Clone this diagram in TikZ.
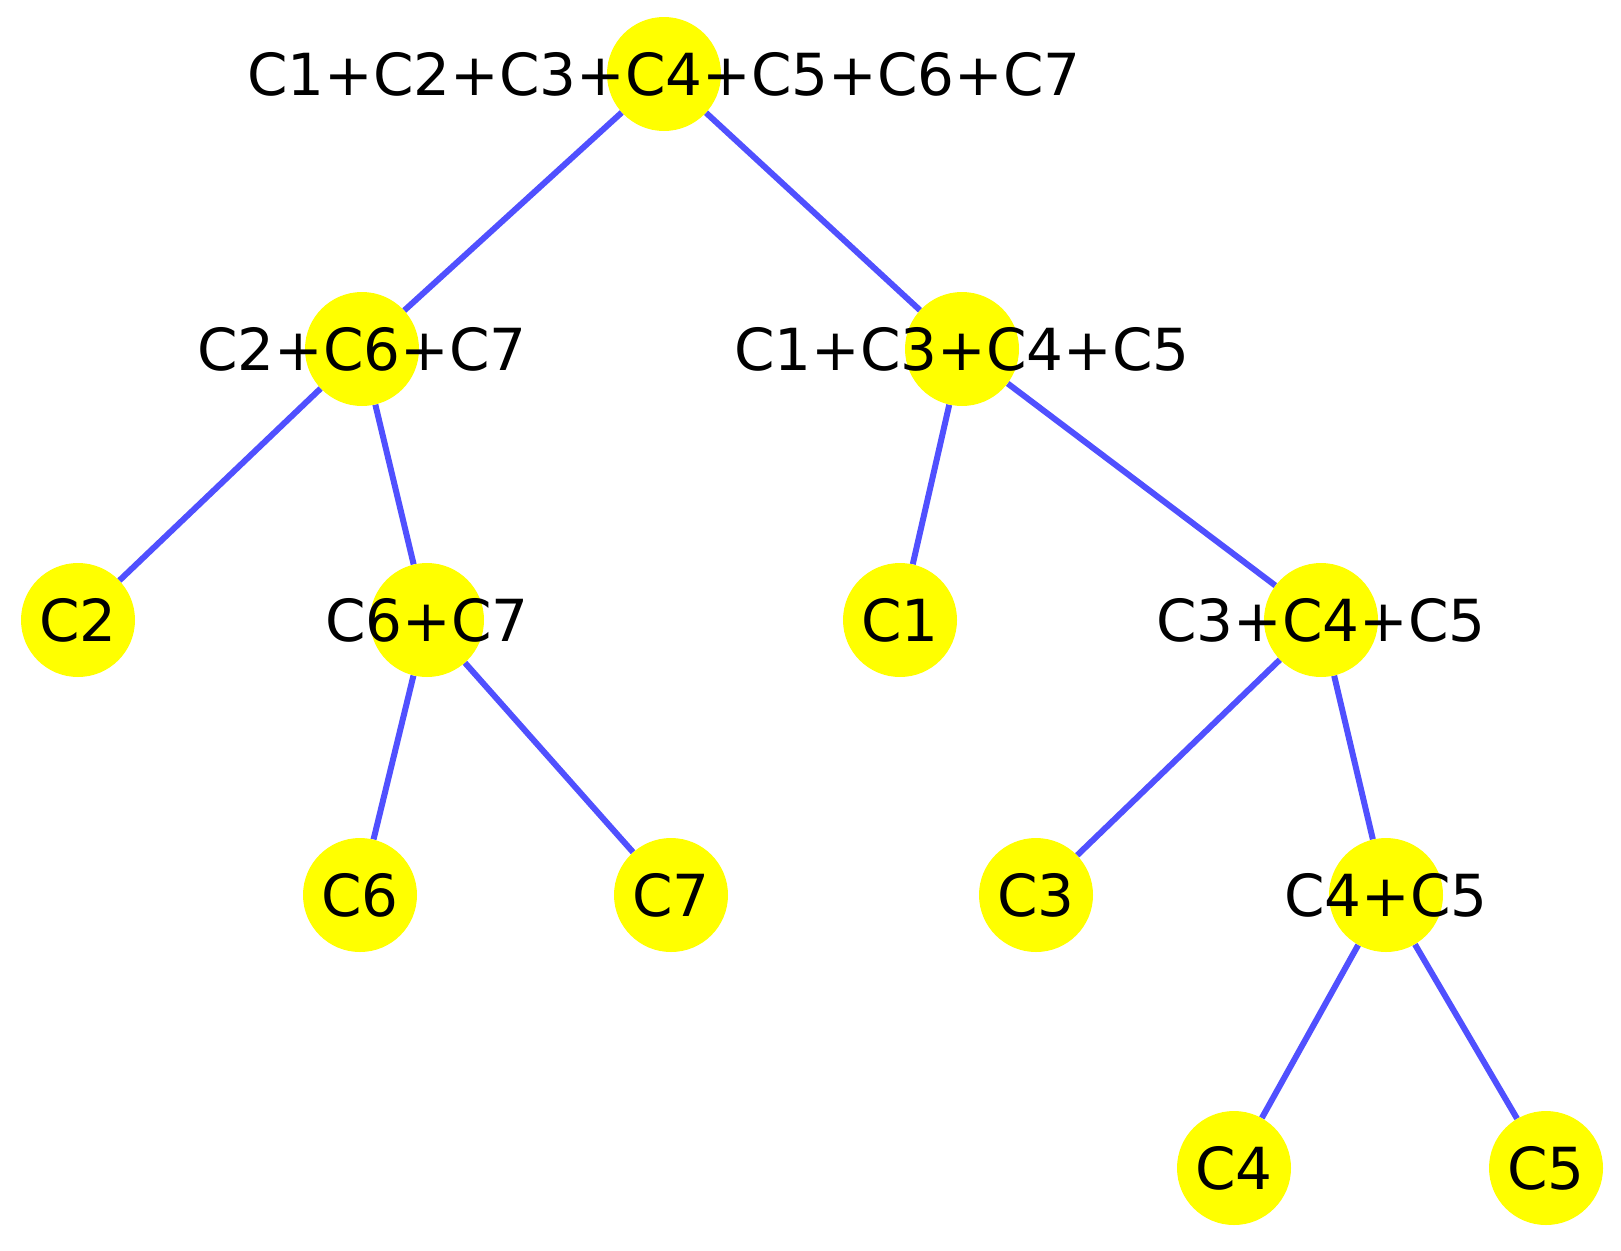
\documentclass[tikz,border=0pt]{standalone}
\usepackage{fontspec}
\setmainfont{DejaVu Sans}
\usetikzlibrary{backgrounds}
\definecolor{eb}{RGB}{80,80,255}
\definecolor{vy}{RGB}{255,255,0}
\begin{document}
\begin{tikzpicture}[x=1pt,y=-1pt,
  v/.style={circle,fill=vy,minimum size=114pt,inner sep=0pt},
  t/.style={font=\fontsize{58}{58}\selectfont,inner sep=0pt},
  e/.style={draw=eb,line width=6pt}]
\useasboundingbox (0,0) rectangle (1621,1250);
\foreach \n/\x/\y/\l in {r/664/74/C1+C2+C3+C4+C5+C6+C7, L/362/349/C2+C6+C7, R/962/349/C1+C3+C4+C5,
  c2/78/620/C2, c67/427/620/C6+C7, c1/900/620/C1, c345/1321/620/C3+C4+C5,
  c6/360/895/C6, c7/671/895/C7, c3/1036/895/C3, c45/1386/895/C4+C5,
  c4/1234/1168/C4, c5/1546/1168/C5}{
  \node[v] (\n) at (\x,\y) {};
  \node[t] (\n l) at (\x,\y) {\l};
}
\begin{scope}[on background layer]
\foreach \a/\b in {r/L,r/R,L/c2,L/c67,R/c1,R/c345,c67/c6,c67/c7,c345/c3,c345/c45,c45/c4,c45/c5}
  \draw[e] (\a) -- (\b);
\end{scope}
\end{tikzpicture}
\end{document}
